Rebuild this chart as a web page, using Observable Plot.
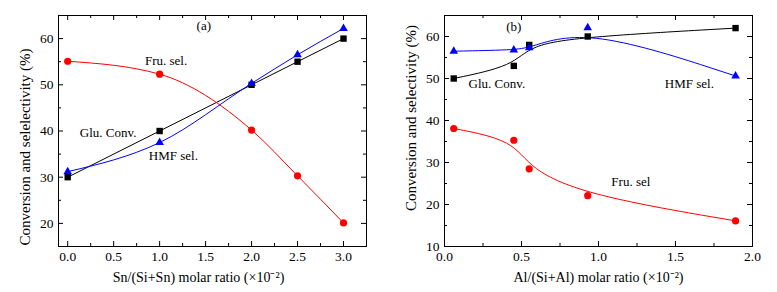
<!DOCTYPE html>
<html><head><meta charset="utf-8">
<script src="https://cdn.jsdelivr.net/npm/d3@7"></script>
<script src="https://cdn.jsdelivr.net/npm/@observablehq/plot@0.6"></script>
<style>
body{margin:0;background:#fff;}
#wrap{display:flex;width:777px;height:292px;}
#wrap svg{display:block;}
</style></head><body><div id="wrap"></div>
<script>
// Panel (a): Sn/(Si+Sn)
const xA = [0, 1, 2, 2.5, 3];
const gluA = [30, 40, 50, 55, 60];
const hmfA = [31.2, 37.5, 50.3, 56.5, 62.2];
const fruA = [55.1, 52.3, 40.2, 30.3, 20.1];
const xTicksA = [0, 0.5, 1, 1.5, 2, 2.5, 3];
const yTicksA = [20, 30, 40, 50, 60];
const labelsA = ["Fru. sel.", "Glu. Conv.", "HMF sel.", "(a)"];
const labelXA = [1.07, 0.44, 1.15, 1.48];
const labelYA = [55.2, 39.6, 34.6, 62.8];

// Panel (b): Al/(Si+Al)
const xB = [0.06, 0.45, 0.55, 0.93, 1.89];
const gluB = [50, 53, 58, 60, 62];
const hmfB = [56.5, 56.8, 57.3, 62.1, 50.6];
const fruB = [38.1, 35.3, 28.5, 22.1, 16.1];
const xTicksB = [0, 0.5, 1, 1.5, 2];
const yTicksB = [10, 20, 30, 40, 50, 60];
const labelsB = ["Glu. Conv.", "HMF sel.", "Fru. sel", "(b)"];
const labelXB = [0.34, 1.59, 1.21, 0.45];
const labelYB = [48.8, 48.8, 25.5, 62.2];

const FONT = '"Liberation Serif","Times New Roman",serif';
const RED = "#ff0000", BLUE = "#0000ff", BLACK = "#000000";

function panel(o) {
  const data = o.x.map((x, i) => ({x, glu: o.glu[i], hmf: o.hmf[i], fru: o.fru[i]}));
  const ann = o.labels.map((t, i) => ({t, x: o.lx[i], y: o.ly[i]}));
  const innerW = o.width - o.ml - o.mr;
  const innerH = 292 - o.mt - o.mb;
  const major = 5, minor = 3;
  const xAll = d3.range(0, o.xdom[1] + 1e-9, o.xstep / 2);
  const xMaj = xAll.filter(v => Math.abs(v / o.xstep - Math.round(v / o.xstep)) < 1e-6);
  const xMin = xAll.filter(v => !xMaj.includes(v));
  const yAll = d3.range(o.ydom[0], o.ydom[1] + 1e-9, 5);
  const yMaj = yAll.filter(v => v % 10 === 0);
  const yMin = yAll.filter(v => v % 10 !== 0);
  const tickMarks = (xs, ys, len) => [
    Plot.ruleX(xs, {x: d => d, insetTop: innerH - len, stroke: BLACK}),
    Plot.ruleX(xs, {x: d => d, insetBottom: innerH - len, stroke: BLACK}),
    Plot.ruleY(ys, {y: d => d, insetRight: innerW - len, stroke: BLACK}),
    Plot.ruleY(ys, {y: d => d, insetLeft: innerW - len, stroke: BLACK})
  ];
  return Plot.plot({
    width: o.width, height: 292,
    marginLeft: o.ml, marginRight: o.mr, marginTop: o.mt, marginBottom: o.mb,
    style: {fontFamily: FONT, fontSize: "13px", color: "black", background: "white", overflow: "visible"},
    x: {domain: o.xdom},
    y: {domain: o.ydom},
    marks: [
      ...tickMarks(xMaj, yMaj, major),
      ...tickMarks(xMin, yMin, minor),
      Plot.frame({stroke: BLACK, strokeWidth: 1}),
      Plot.line(data, {x: "x", y: "glu", stroke: BLACK, strokeWidth: 1, curve: o.curveGlu}),
      Plot.line(data, {x: "x", y: "hmf", stroke: BLUE, strokeWidth: 1, curve: o.curve}),
      Plot.line(data, {x: "x", y: "fru", stroke: RED, strokeWidth: 1, curve: o.curve}),
      Plot.dot(data, {x: "x", y: "fru", symbol: "circle", fill: RED, r: 3.6}),
      Plot.dot(data, {x: "x", y: "glu", symbol: "square", fill: BLACK, r: 3.6}),
      Plot.dot(data, {x: "x", y: "hmf", symbol: "triangle", fill: BLUE, r: 3.2}),
      Plot.axisX({ticks: o.xt, tickFormat: d3.format(".1f"), tickSize: 0, tickPadding: 5, label: null, fontSize: 13.5}),
      Plot.axisY({ticks: o.yt, tickFormat: d3.format("d"), tickSize: 0, tickPadding: 5, label: null, fontSize: 13.5}),
      Plot.text(ann, {x: "x", y: "y", text: "t", fontSize: 13, fill: BLACK}),
      Plot.text([o.ylabel], {frameAnchor: "left", textAnchor: "middle", lineAnchor: "middle", rotate: -90, dx: o.ylabDx, dy: o.ylabDy, fontSize: 15, fill: BLACK}),
      Plot.text([o.xlabel], {frameAnchor: "bottom", textAnchor: "middle", lineAnchor: "middle", dy: 31, dx: o.xlabDx, fontSize: 14, fill: BLACK})
    ]
  });
}

const wrap = document.getElementById("wrap");
wrap.appendChild(panel({
  x: xA, glu: gluA, hmf: hmfA, fru: fruA,
  labels: labelsA, lx: labelXA, ly: labelYA,
  width: 390, ml: 58, mr: 24, mt: 15, mb: 46,
  xdom: [-0.1, 3.25], ydom: [15, 65], xstep: 0.5,
  xt: xTicksA, yt: yTicksA,
  curve: "monotone-x", curveGlu: "linear",
  ylabel: "Conversion and selelectivity (%)", ylabDx: -33, ylabDy: 16,
  xlabel: "Sn/(Si+Sn) molar ratio (×10⁻²)", xlabDx: -14
}));
wrap.appendChild(panel({
  x: xB, glu: gluB, hmf: hmfB, fru: fruB,
  labels: labelsB, lx: labelXB, ly: labelYB,
  width: 387, ml: 54, mr: 25, mt: 15, mb: 46,
  xdom: [0, 2], ydom: [10, 65], xstep: 0.5,
  xt: xTicksB, yt: yTicksB,
  curve: "basis", curveGlu: "basis",
  ylabel: "Conversion and selectivity (%)", ylabDx: -33, ylabDy: -13,
  xlabel: "Al/(Si+Al) molar ratio (×10⁻²)", xlabDx: 0
}));
</script></body></html>
